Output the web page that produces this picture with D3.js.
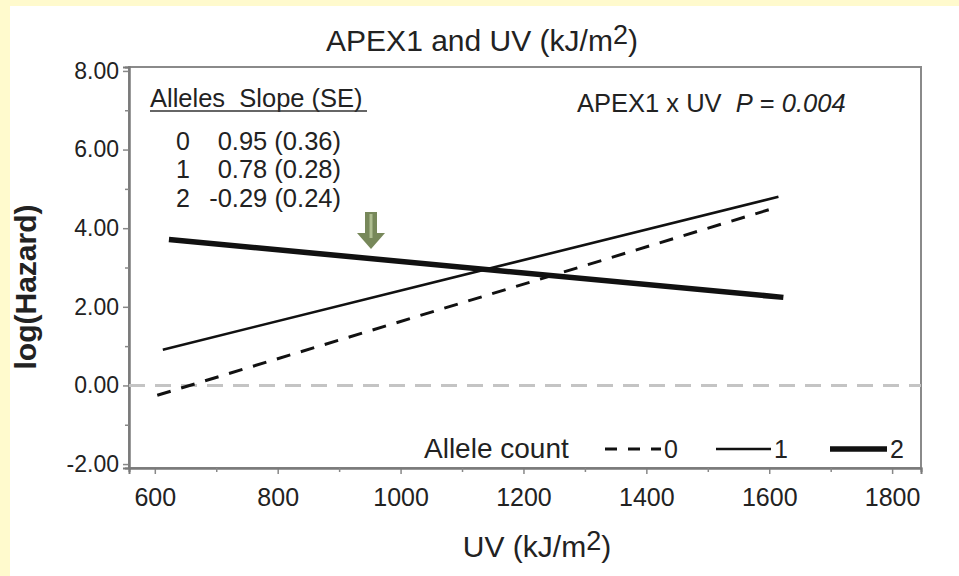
<!DOCTYPE html>
<html><head><meta charset="utf-8">
<script src="https://cdn.jsdelivr.net/npm/d3@7"></script>
<style>
html,body{margin:0;padding:0;background:#fffacd;}
svg{display:block;font-family:"Liberation Sans",Arial,sans-serif;}
</style></head>
<body>
<svg id="c" width="959" height="576"></svg>
<script>
// ---- data ----
const alleles = ["0", "1", "2"];
const slopeText = ["0.95 (0.36)", "0.78 (0.28)", "-0.29 (0.24)"];
const uvPoints = [[604, 1610], [613, 1615], [623, 1623]];
const hazardPoints = [[-0.25, 4.52], [0.91, 4.80], [3.71, 2.24]];
const xTicks = [600, 800, 1000, 1200, 1400, 1600, 1800];
const xMinor = [700, 900, 1100, 1300, 1500, 1700];
const yTicks = [-2, 0, 2, 4, 6, 8];
const yMinor = [-1, 1, 3, 5, 7];
const refValue = 0;

const svg = d3.select("#c");
svg.append("rect").attr("x", 10).attr("y", 6).attr("width", 949).attr("height", 570).attr("fill", "#fff");

const x = d3.scaleLinear().domain([558, 1847]).range([129, 921]);
const y = d3.scaleLinear().domain([-2.1, 8.1]).range([468, 67]);

// title
const t = svg.append("text").attr("x", 482).attr("y", 51).attr("text-anchor", "middle")
  .attr("font-size", 30).attr("fill", "#222");
t.append("tspan").text("APEX1 and UV (kJ/m");
t.append("tspan").attr("dy", -7).attr("font-size", 27).text("2");
t.append("tspan").attr("dy", 7).text(")");

// frame
svg.append("rect").attr("x", 129).attr("y", 67).attr("width", 921 - 129).attr("height", 468 - 67)
  .attr("fill", "none").attr("stroke", "#8a8a8a").attr("stroke-width", 2);

// axes
const gy = svg.append("g").attr("transform", "translate(129,0)")
  .call(d3.axisLeft(y).tickValues(yTicks).tickFormat(d => d.toFixed(2)).tickSize(6).tickPadding(4));
const gyMinor = svg.append("g").attr("transform", "translate(129,0)")
  .call(d3.axisLeft(y).tickValues(yMinor).tickFormat("").tickSize(4));
const gx = svg.append("g").attr("transform", "translate(0,468)")
  .call(d3.axisBottom(x).tickValues(xTicks).tickFormat(d3.format("d")).tickSize(6).tickPadding(14));
const gxMinor = svg.append("g").attr("transform", "translate(0,468)")
  .call(d3.axisBottom(x).tickValues(xMinor).tickFormat("").tickSize(4));
[gy, gyMinor, gx, gxMinor].forEach(g => {
  g.select(".domain").attr("stroke", "#7a7a7a").attr("stroke-width", 2);
  g.selectAll(".tick line").attr("stroke", "#888").attr("stroke-width", 1.5);
  g.selectAll("text").attr("fill", "#222")
    .attr("font-family", "'Liberation Sans',Arial,sans-serif");
});
gy.selectAll("text").attr("font-size", 23);
gx.selectAll("text").attr("font-size", 25);

// axis labels
svg.append("text").attr("transform", "translate(36,287) rotate(-90)").attr("text-anchor", "middle")
  .attr("font-size", 30).attr("font-weight", "bold").attr("fill", "#222").text("log(Hazard)");
const xl = svg.append("text").attr("x", 537).attr("y", 557).attr("text-anchor", "middle")
  .attr("font-size", 30).attr("fill", "#222");
xl.append("tspan").text("UV (kJ/m");
xl.append("tspan").attr("dy", -7).attr("font-size", 27).text("2");
xl.append("tspan").attr("dy", 7).text(")");

// reference line
svg.append("line").attr("x1", x.range()[0]).attr("x2", x.range()[1])
  .attr("y1", y(refValue)).attr("y2", y(refValue))
  .attr("stroke", "#c4c4c4").attr("stroke-width", 3).attr("stroke-dasharray", "16,10");

// series lines
const styles = [
  {w: 3, dash: "14,11"},
  {w: 2.6, dash: null},
  {w: 5.5, dash: null}
];
const line = d3.line().x(d => x(d[0])).y(d => y(d[1]));
alleles.forEach((a, i) => {
  const pts = uvPoints[i].map((u, j) => [u, hazardPoints[i][j]]);
  const p = svg.append("path").datum(pts).attr("d", line).attr("fill", "none")
    .attr("stroke", "#111").attr("stroke-width", styles[i].w);
  if (styles[i].dash) p.attr("stroke-dasharray", styles[i].dash);
});

// slope table
svg.append("text").attr("x", 150).attr("y", 107).attr("font-size", 25.5).attr("fill", "#222")
  .attr("xml:space", "preserve").text("Alleles  Slope (SE)");
svg.append("line").attr("x1", 150).attr("x2", 367).attr("y1", 111).attr("y2", 111)
  .attr("stroke", "#333").attr("stroke-width", 1.5);
const rowY = [150, 178, 207];
alleles.forEach((a, i) => {
  svg.append("text").attr("x", 183).attr("y", rowY[i]).attr("text-anchor", "middle")
    .attr("font-size", 25).attr("fill", "#222").text(a);
  svg.append("text").attr("x", 341).attr("y", rowY[i]).attr("text-anchor", "end")
    .attr("font-size", 25.5).attr("fill", "#222").text(slopeText[i]);
});

// interaction p
const pt = svg.append("text").attr("x", 577).attr("y", 112).attr("font-size", 25.5).attr("fill", "#222")
  .attr("xml:space", "preserve");
pt.append("tspan").text("APEX1 x UV  ");
pt.append("tspan").attr("font-style", "italic").text("P");
pt.append("tspan").text(" = ");
pt.append("tspan").attr("font-style", "italic").text("0.004");

// arrow
const ax = 371, ay = 212;
svg.append("path").attr("d", `M${ax-6},${ay} L${ax+6},${ay} L${ax+6},${ay+21} L${ax+14},${ay+21} L${ax},${ay+37} L${ax-14},${ay+21} L${ax-6},${ay+21} Z`)
  .attr("fill", "#77885a");
svg.append("line").attr("x1", ax).attr("x2", ax).attr("y1", ay + 2).attr("y2", ay + 26)
  .attr("stroke", "#aebd90").attr("stroke-width", 3);

// bottom legend
const ly = 449;
svg.append("text").attr("x", 424).attr("y", 458).attr("font-size", 28).attr("fill", "#222").text("Allele count");
const legX = [[605, 661], [716, 771], [830, 887]];
alleles.forEach((a, i) => {
  const l = svg.append("line").attr("x1", legX[i][0]).attr("x2", legX[i][1]).attr("y1", ly).attr("y2", ly)
    .attr("stroke", "#111").attr("stroke-width", styles[i].w);
  if (styles[i].dash) l.attr("stroke-dasharray", "12,11");
  svg.append("text").attr("x", legX[i][1] + 3).attr("y", 458).attr("font-size", 25).attr("fill", "#222").text(a);
});
</script>
</body></html>
